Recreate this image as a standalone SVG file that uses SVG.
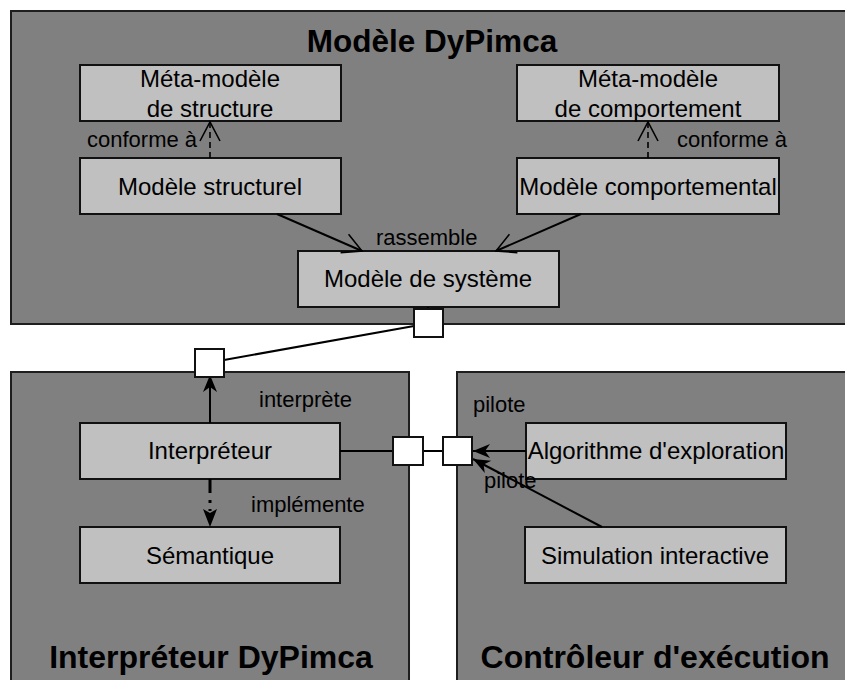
<svg xmlns="http://www.w3.org/2000/svg" width="845" height="680" viewBox="0 0 845 680">
<style>
text{font-family:"Liberation Sans",Arial,sans-serif;fill:#000}
.ctn{fill:#808080;stroke:#1e1e1e;stroke-width:2}
.node{fill:#c0c0c0;stroke:#111;stroke-width:2}
.port{fill:#fff;stroke:#111;stroke-width:2}
.title{font-size:32px;font-weight:bold;text-anchor:middle}
.nt{font-size:24px;text-anchor:middle}
.lbl{font-size:22px}
.ln{stroke:#000;stroke-width:2;fill:none}
.dash{stroke:#000;stroke-width:1.6;fill:none;stroke-dasharray:6 4}
.dash2{stroke:#000;stroke-width:3;fill:none;stroke-dasharray:14 7 3 6}
</style>
<defs>
<marker id="open" markerUnits="userSpaceOnUse" viewBox="-22 -13 24 26" refX="0" refY="0" markerWidth="24" markerHeight="26" orient="auto">
<path d="M-19,-10 L0,0 L-19,10" fill="none" stroke="#000" stroke-width="1.6"/>
</marker>
<marker id="fill" markerUnits="userSpaceOnUse" viewBox="-20 -9 22 18" refX="0" refY="0" markerWidth="22" markerHeight="18" orient="auto">
<path d="M0,0 L-17,-7 L-12,0 L-17,7 Z" fill="#000"/>
</marker>
</defs>
<g id="container-modele">
<rect class="ctn" x="11" y="11" width="850" height="313"/>
<text class="title" x="432" y="52" style="font-size:31.5px">Modèle DyPimca</text>
</g>
<g id="container-interpreteur">
<rect class="ctn" x="11" y="372" width="398" height="330"/>
<text class="title" x="211" y="668">Interpréteur DyPimca</text>
</g>
<g id="container-controleur">
<rect class="ctn" x="457" y="372" width="400" height="330"/>
<text class="title" x="655" y="668">Contrôleur d'exécution</text>
</g>
<g id="meta-structure">
<rect class="node" x="80" y="65" width="261" height="56"/>
<text class="nt" x="210" y="87">Méta-modèle</text>
<text class="nt" x="210" y="117">de structure</text>
</g>
<g id="meta-comportement">
<rect class="node" x="517" y="65" width="262" height="56"/>
<text class="nt" x="648" y="87">Méta-modèle</text>
<text class="nt" x="648" y="117">de comportement</text>
</g>
<g id="modele-structurel">
<rect class="node" x="80" y="158" width="261" height="56"/>
<text class="nt" x="210" y="195">Modèle structurel</text>
</g>
<g id="modele-comportemental">
<rect class="node" x="517" y="158" width="262" height="56"/>
<text class="nt" x="648" y="195">Modèle comportemental</text>
</g>
<g id="modele-systeme">
<rect class="node" x="298" y="251" width="261" height="56"/>
<text class="nt" x="428" y="287">Modèle de système</text>
</g>
<g id="interpreteur">
<rect class="node" x="80" y="423" width="260" height="56"/>
<text class="nt" x="210" y="459">Interpréteur</text>
</g>
<g id="semantique">
<rect class="node" x="80" y="527" width="260" height="56"/>
<text class="nt" x="210" y="564">Sémantique</text>
</g>
<g id="algorithme">
<rect class="node" x="526" y="423" width="260" height="56"/>
<text class="nt" x="656" y="459">Algorithme d'exploration</text>
</g>
<g id="simulation">
<rect class="node" x="525" y="527" width="261" height="56"/>
<text class="nt" x="655" y="564">Simulation interactive</text>
</g>
<g id="connectors">
<line class="dash" x1="210" y1="158" x2="210" y2="122" marker-end="url(#open)"/>
<line class="dash" x1="648" y1="158" x2="648" y2="122" marker-end="url(#open)"/>
<line class="ln" x1="277" y1="214" x2="362" y2="251" marker-end="url(#open)"/>
<line class="ln" x1="581" y1="214" x2="496" y2="251" marker-end="url(#open)"/>
<line class="ln" x1="428" y1="307" x2="428" y2="309"/>
<line class="ln" x1="224" y1="360" x2="414" y2="326"/>
<line class="ln" x1="210" y1="423" x2="210" y2="375" marker-end="url(#fill)"/>
<line class="dash2" x1="210" y1="479" x2="210" y2="511"/>
<path d="M210,527 L203,509 L210,513 L217,509 Z" fill="#000"/>
<line class="ln" x1="340" y1="451" x2="393" y2="451"/>
<line class="ln" x1="423" y1="451" x2="443" y2="451"/>
<line class="ln" x1="526" y1="451" x2="473" y2="451" marker-end="url(#fill)"/>
<line class="ln" x1="602" y1="527" x2="473" y2="459" marker-end="url(#fill)"/>
<text class="lbl" x="87" y="147">conforme à</text>
<text class="lbl" x="677" y="147">conforme à</text>
<text class="lbl" x="376" y="245">rassemble</text>
<text class="lbl" x="259" y="407">interprète</text>
<text class="lbl" x="251" y="512">implémente</text>
<text class="lbl" x="473" y="412">pilote</text>
<text class="lbl" x="484" y="488">pilote</text>
</g>
<g id="port-systeme"><rect class="port" x="414" y="309" width="29" height="28"/></g>
<g id="port-interpreteur-haut"><rect class="port" x="195" y="349" width="29" height="28"/></g>
<g id="port-interpreteur-droite"><rect class="port" x="393" y="437" width="30" height="28"/></g>
<g id="port-controleur"><rect class="port" x="443" y="437" width="29" height="28"/></g>
</svg>
